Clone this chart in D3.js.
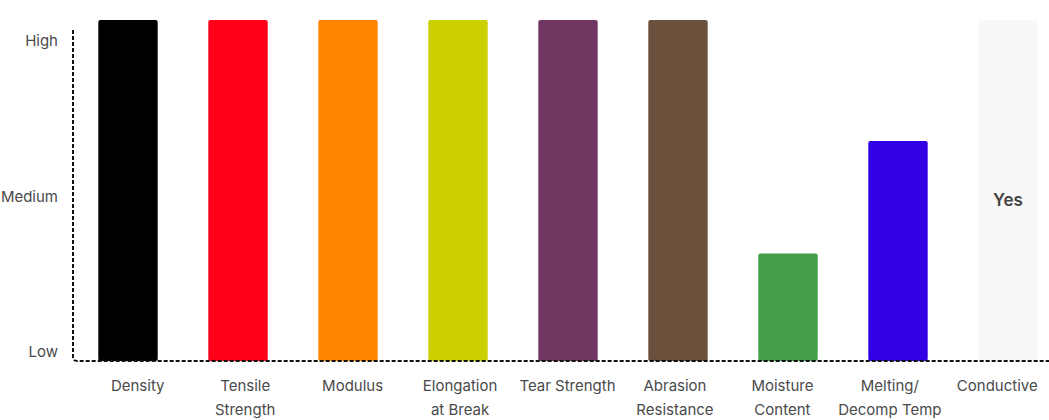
<!DOCTYPE html>
<html>
<head>
<meta charset="utf-8">
<script src="https://cdn.jsdelivr.net/npm/d3@7"></script>
<style>
  html, body { margin: 0; padding: 0; background: #fff; }
  svg { display: block; font-family: "Inter", "Noto Sans", sans-serif; }
</style>
</head>
<body>
<svg id="chart" width="1049" height="420"></svg>
<script>
const categories = ["Density", "Tensile Strength", "Modulus", "Elongation at Break", "Tear Strength", "Abrasion Resistance", "Moisture Content", "Melting/ Decomp Temp", "Conductive"];
const categoryLines = [["Density"], ["Tensile", "Strength"], ["Modulus"], ["Elongation", "at Break"], ["Tear Strength"], ["Abrasion", "Resistance"], ["Moisture", "Content"], ["Melting/", "Decomp Temp"], ["Conductive"]];
const values = [10, 10, 10, 10, 10, 10, 3.15, 6.45, 10];
const colors = ["#000000", "#ff0019", "#ff8400", "#cccf00", "#6f3762", "#6b513b", "#449f4a", "#3300e6", "#f8f8f8"];
const barLabels = ["", "", "", "", "", "", "", "", "Yes"];
const tickValues = [0.26, 4.82, 9.38];
const tickLabels = ["Low", "Medium", "High"];

const FONT = "'Inter', 'Noto Sans', sans-serif";
const svg = d3.select("#chart");
const x = d3.scaleBand().domain(categories).range([73, 1063]).paddingInner(0.46).paddingOuter(0.23);
const xLabel = d3.scaleBand().domain(categories).range([84, 1051]).padding(0);
const y = d3.scaleLinear().domain([0, 10]).range([361, 20]);

// bars
svg.append("g").selectAll("rect").data(categories).join("rect")
  .attr("x", d => x(d))
  .attr("y", (d, i) => y(values[i]))
  .attr("width", x.bandwidth())
  .attr("height", (d, i) => y(0) - y(values[i]))
  .attr("rx", 2).attr("ry", 2)
  .attr("fill", (d, i) => colors[i]);

// bar labels
svg.append("g").selectAll("text").data(categories).join("text")
  .attr("x", d => x(d) + x.bandwidth() / 2)
  .attr("y", 206)
  .attr("text-anchor", "middle")
  .attr("font-size", 17)
  .attr("font-weight", 600)
  .attr("font-family", FONT)
  .attr("fill", "#444")
  .text((d, i) => barLabels[i]);

// axes (dashed)
const axisPath = `M73,30 L73,357 Q73,361 77,361 L1049,361`;
svg.append("path").attr("d", axisPath).attr("fill", "none")
  .attr("stroke", "#111").attr("stroke-width", 2).attr("stroke-dasharray", "4,2");

// y tick labels
const yAxis = d3.axisLeft(y).tickValues(tickValues).tickSize(0).tickPadding(15)
  .tickFormat((d, i) => tickLabels[i]);
const gy = svg.append("g").attr("transform", "translate(73,0)").call(yAxis);
gy.select(".domain").remove();
gy.selectAll("text").attr("font-size", 15).attr("fill", "#4a4a4a").attr("font-family", FONT);

// x tick labels
const xAxis = d3.axisBottom(xLabel).tickSize(0).tickFormat("");
const gx = svg.append("g").attr("transform", "translate(0,361)").call(xAxis);
gx.select(".domain").remove();
gx.selectAll(".tick").each(function(d, i) {
  const t = d3.select(this).append("text")
    .attr("text-anchor", "middle")
    .attr("font-size", 15)
    .attr("fill", "#4a4a4a")
    .attr("font-family", FONT);
  categoryLines[i].forEach((line, j) => {
    t.append("tspan").attr("x", 0).attr("y", 30 + j * 24).text(line);
  });
});
</script>
</body>
</html>
